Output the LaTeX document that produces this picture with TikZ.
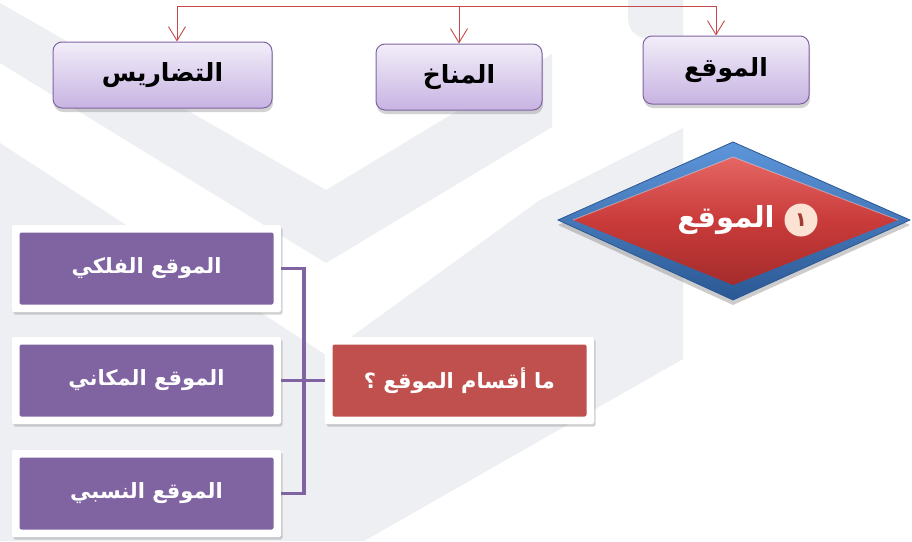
\documentclass[tikz,border=0pt]{standalone}
\usepackage{fontspec}
\usetikzlibrary{shadows,arrows.meta,calc}
\TeXXeTstate=1
\newfontfamily\arabicfont[Script=Arabic]{DejaVu Sans}
\definecolor{bgrey}{HTML}{EEEFF3}
\definecolor{lineRed}{HTML}{C8474A}
\definecolor{purp}{HTML}{8064A2}
\definecolor{qred}{HTML}{C0504D}
\definecolor{topBoxTop}{HTML}{F2EEF9}
\definecolor{topBoxBot}{HTML}{C7B3E2}
\definecolor{dBlueT}{HTML}{5E96DA}
\definecolor{dBlueB}{HTML}{2A5894}
\definecolor{dRedT}{HTML}{E46664}
\definecolor{dRedM}{HTML}{C93B3A}
\definecolor{dRedB}{HTML}{A52C2C}
\definecolor{peach}{HTML}{FBE2D2}
\definecolor{numRed}{HTML}{A33B35}
\tikzset{
  topbox/.style={rectangle, rounded corners=9pt, draw=purp, line width=1pt,
    top color=topBoxTop, bottom color=topBoxBot,
    drop shadow={opacity=0.35, shadow xshift=1pt, shadow yshift=-4pt},
    font=\arabicfont\bfseries\fontsize{25}{30}\selectfont, text=black, inner sep=0pt},
  framebox/.style={rectangle, fill=white, inner sep=0pt, rounded corners=2pt,
    minimum width=269pt, minimum height=87pt,
    drop shadow={opacity=0.35, shadow xshift=1.5pt, shadow yshift=-2.5pt},
    path picture={\fill[#1] ($(path picture bounding box.south west)+(7.5pt,7.5pt)$)
      rectangle ($(path picture bounding box.north east)+(-7.5pt,-7.5pt)$);},
    text=white, font=\arabicfont\bfseries\fontsize{21}{25}\selectfont},
  redline/.style={draw=lineRed, line width=0.9pt},
  redarrow/.style={redline, -{Straight Barb[length=14pt,width=17pt,line width=0.9pt]}},
  pline/.style={draw=purp, line width=3.5pt}
}
\begin{document}
\begin{tikzpicture}[x=1pt,y=-1pt]
\useasboundingbox (0,0) rectangle (912,541);
\fill[white] (0,0) rectangle (912,541);
% background watermark
\fill[bgrey] (0,3) -- (326,190) -- (552,54) -- (552,127) -- (326,263) -- (0,63) -- cycle;
\fill[bgrey] (0,143) -- (326,355) -- (540,200) -- (683,128) -- (683,359) -- (364,541) -- (0,541) -- cycle;
\fill[bgrey] (628,0) -- (683,0) -- (683,38) -- (648,38) .. controls (636,38) and (628,30) .. (628,18) -- cycle;

% top boxes
\node[topbox, minimum width=219pt, minimum height=66pt] (t1) at (162.5,75) {\beginR التضاريس\endR};
\node[topbox, minimum width=166pt, minimum height=66pt] (t2) at (459,77) {\beginR المناخ\endR};
\node[topbox, minimum width=166pt, minimum height=68pt] (t3) at (726,70) {\beginR الموقع\endR};

\coordinate (bl) at (177,6);
\coordinate (br) at (716,6);
\draw[redline] (bl) -- (br);
\draw[redarrow] (bl) -- (bl |- t1.north);
\draw[redarrow] (t2.north |- bl) -- (t2.north);
\draw[redarrow] (br) -- (br |- t3.north);

% diamond
\coordinate (dL) at (558,220);
\coordinate (dT) at (733,142);
\coordinate (dR) at (910,220);
\coordinate (dB) at (733,300);
\path[drop shadow={opacity=0.4, shadow xshift=0pt, shadow yshift=-5pt}, top color=dBlueT, bottom color=dBlueB]
  (dL) -- (dT) -- (dR) -- (dB) -- cycle;
\draw[dBlueB, line width=0.8pt] (dL) -- (dT) -- (dR) -- (dB) -- cycle;
\coordinate (iL) at (573,220);
\coordinate (iT) at (733,157);
\coordinate (iR) at (898,220);
\coordinate (iB) at (733,285);
\path[top color=dRedT, bottom color=dRedB, middle color=dRedM] (iL) -- (iT) -- (iR) -- (iB) -- cycle;
\draw[white, opacity=0.35, line width=1pt] (iL) -- (iT) -- (iR);
\node[text=white, font=\arabicfont\bfseries\fontsize{29}{34}\selectfont, inner sep=0pt] (dlabel) at (726,220) {\beginR الموقع\endR};
\node[circle, fill=peach, minimum size=33pt, inner sep=0pt, text=numRed,
      font=\arabicfont\bfseries\fontsize{20}{24}\selectfont] (num) at (801,220) {١};

% left boxes
\node[framebox=purp] (b1) at (146.5,268.5) {\beginR الموقع الفلكي\endR};
\node[framebox=purp] (b2) at (146.5,380.5) {\beginR الموقع المكاني\endR};
\node[framebox=purp] (b3) at (146.5,493.5) {\beginR الموقع النسبي\endR};
\node[framebox=qred] (q) at (459.5,380.5) {\beginR ما أقسام الموقع ؟\endR};

\coordinate (j) at (304,380.5);
\draw[pline] (b1.east) -| (j) |- (b3.east);
\draw[pline] (b2.east) -- (q.west);
\end{tikzpicture}
\end{document}
